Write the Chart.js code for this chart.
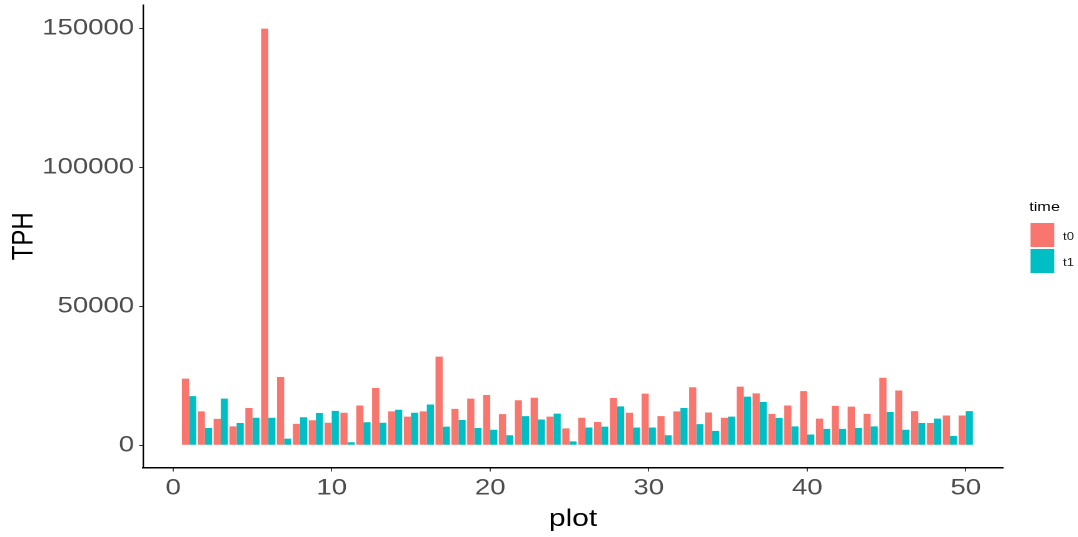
<!DOCTYPE html>
<html><head><meta charset="utf-8">
<script src="https://cdn.jsdelivr.net/npm/chart.js@4.4.1/dist/chart.umd.min.js"></script>
<style>
html,body{margin:0;padding:0;background:#fff;overflow:hidden;width:1078px;height:537px}
#wrap{position:absolute;left:0;top:0;width:862px;height:537px;transform:scaleX(1.2506);transform-origin:0 0;font-family:"Liberation Sans",Arial,sans-serif}
#c{display:block}
.lg{position:absolute;color:#000;white-space:nowrap}
#lgTitle{left:823px;top:199px;font-size:13px;line-height:15px}
.key{position:absolute;left:823.5px;width:19.2px;height:24px}
.klab{position:absolute;left:850px;font-size:10.5px;line-height:12px;color:#1a1a1a}
</style>
</head><body>
<div id="wrap">
  <canvas id="c" width="862" height="537"></canvas>
  <div class="lg" id="lgTitle">time</div>
  <div class="key" style="top:223.3px;background:#F8766D"></div>
  <div class="key" style="top:249.3px;background:#00BFC4"></div>
  <div class="lg klab" style="top:229.5px">t0</div>
  <div class="lg klab" style="top:255.5px">t1</div>
</div>
<script>
const plots = [1,2,3,4,5,6,7,8,9,10,11,12,13,14,15,16,17,18,19,20,21,22,23,24,25,26,27,28,29,30,31,32,33,34,35,36,37,38,39,40,41,42,43,44,45,46,47,48,49,50];
const seriesNames = ['t0','t1'];
const t0 = [24000,12200,9500,6800,13400,150000,24600,7700,9000,8100,11700,14300,20600,12200,10300,12200,31900,13100,16800,18100,11200,16200,17100,10300,6100,9900,8400,17000,11700,18600,10500,12200,20900,11800,9900,21100,18700,11300,14300,19500,9600,14200,13900,11300,24300,19700,12300,8000,10700,10700];
const t1 = [17700,6200,16800,8000,9900,9900,2400,10100,11600,12400,1100,8300,8100,12800,11700,14700,6700,9100,6200,5600,3600,10500,9300,11400,1400,6400,6700,14000,6400,6400,3600,13400,7600,5200,10300,17500,15600,9800,6800,3900,5900,5900,6200,6800,12000,5600,8000,9600,3400,12300];
const xTicks = [0,10,20,30,40,50];
const yTicks = [0,50000,100000,150000];
const colors = ['#F8766D','#00BFC4'];

const toPts = vals => plots.map((p,i)=>({x:p,y:vals[i]}));

new Chart(document.getElementById('c'), {
  type:'bar',
  data:{
    datasets:[
      {label:seriesNames[0], data:toPts(t0), backgroundColor:colors[0], borderWidth:0, categoryPercentage:0.9, barPercentage:1.0},
      {label:seriesNames[1], data:toPts(t1), backgroundColor:colors[1], borderWidth:0, categoryPercentage:0.9, barPercentage:1.0}
    ]
  },
  options:{
    responsive:false,
    animation:false,
    devicePixelRatio:2,
    layout:{padding:{left:0,right:60,top:5,bottom:0}},
    plugins:{legend:{display:false},tooltip:{enabled:false}},
    scales:{
      x:{
        type:'linear', offset:false, min:-1.9, max:52.35,
        afterBuildTicks:s=>{s.ticks = xTicks.map(v=>({value:v}));},
        afterFit:s=>{s.height = 69.5; s.paddingLeft = 0; s.paddingRight = 0;},
        grid:{display:true, drawOnChartArea:false, offset:false, tickLength:4, color:'#333333', lineWidth:0.9},
        border:{display:true, color:'#000000', width:1.5},
        ticks:{color:'#4D4D4D', font:{family:'"Liberation Sans", Arial, sans-serif', size:22}, padding:3.5, maxRotation:0, autoSkip:false},
        title:{display:true, text:'plot', color:'#000', font:{family:'"Liberation Sans", Arial, sans-serif', size:24}, padding:{top:0,bottom:3}}
      },
      y:{
        type:'linear', min:-8000, max:158500,
        afterBuildTicks:s=>{s.ticks = yTicks.map(v=>({value:v}));},
        afterFit:s=>{s.width = 114.4; s.paddingTop = 0; s.paddingBottom = 0;},
        grid:{display:true, drawOnChartArea:false, tickLength:3.2, color:'#333333', lineWidth:1},
        border:{display:true, color:'#000000', width:1.2},
        ticks:{color:'#4D4D4D', font:{family:'"Liberation Sans", Arial, sans-serif', size:22}, padding:4, callback:v=>String(v)},
        title:{display:true, text:'TPH', color:'#000', font:{family:'"Liberation Sans", Arial, sans-serif', size:24}, padding:{top:5,bottom:0}}
      }
    }
  }
});
</script>
</body></html>
